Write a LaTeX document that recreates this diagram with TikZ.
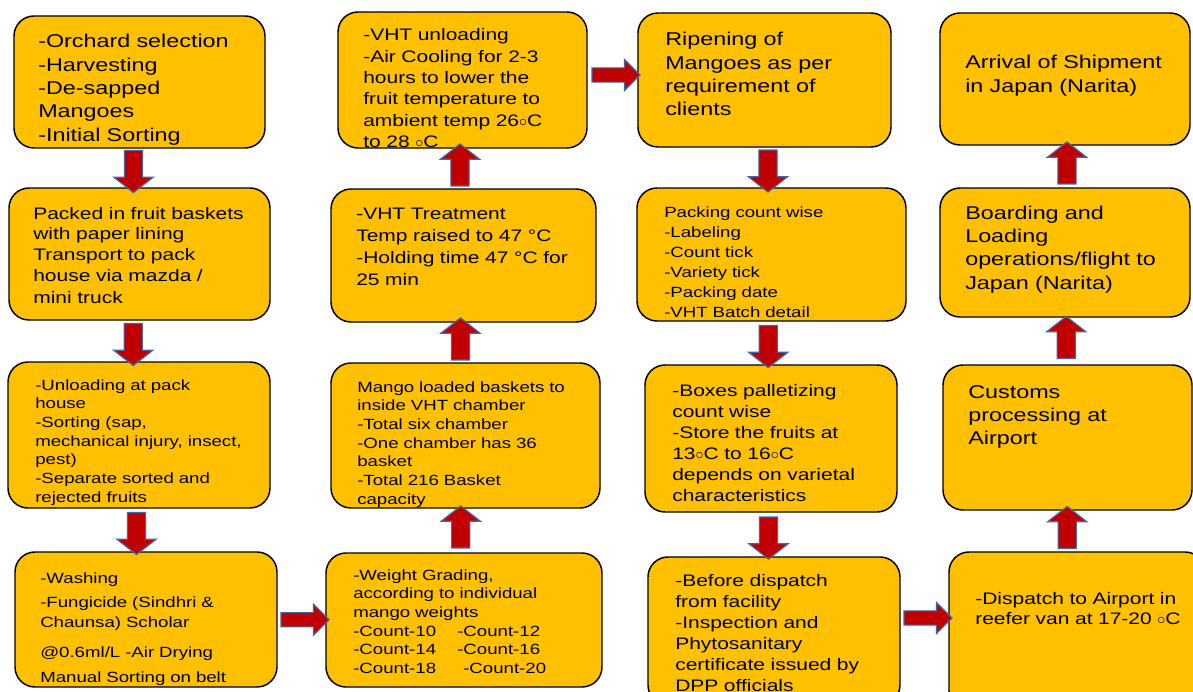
\documentclass[tikz,border=0pt]{standalone}
\usepackage{fontspec}
\usepackage{tikz}
\usetikzlibrary{fit,shapes.arrows}
\newfontfamily\boxfont{Liberation Sans}[FakeStretch=1.26]
\definecolor{mangofill}{HTML}{FFC000}
\definecolor{arrowred}{HTML}{C00000}
\definecolor{arrowblue}{HTML}{4169A8}
\newcommand{\dg}{\ensuremath{\circ}}

\begin{document}
\begin{tikzpicture}[x=0.75pt,y=-0.75pt,
  stage/.style={draw=black,line width=1.1pt,fill=mangofill,rounded corners=15pt,inner sep=0pt},
  big/.style={anchor=base west,inner sep=0pt,text width=200pt,align=left,font=\boxfont\fontsize{13.9}{17.5}\selectfont},
  mid/.style={big,font=\boxfont\fontsize{12.5}{16}\selectfont},
  small/.style={big,font=\boxfont\fontsize{11.1}{14}\selectfont},
  varrow/.style={single arrow,draw=arrowblue,fill=arrowred,line width=0.9pt,inner sep=6.4pt,
    minimum width=28.5pt,minimum height=31.5pt,single arrow head extend=7.9pt,single arrow tip angle=104},
  harrow/.style={varrow,inner sep=4.9pt,minimum width=22.5pt,minimum height=36pt,single arrow head extend=6.4pt,single arrow tip angle=90}]

\useasboundingbox (0,0) rectangle (1193,692);
\clip (0,0) rectangle (1193,692);

\node[stage,fit={(14,16) (265,148)}] (orchard) {};
\node[stage,fit={(9,188) (270,320)}] (packed) {};
\node[stage,fit={(8,362) (270,508)}] (unload) {};
\node[stage,fit={(15,552) (277,687)}] (wash) {};
\node[stage,fit={(326,553) (602,687)}] (grade) {};
\node[stage,fit={(331,363) (600,508)}] (load) {};
\node[stage,fit={(331,189) (596,322)}] (treat) {};
\node[stage,fit={(338,12) (587,148)}] (cool) {};
\node[stage,fit={(638,13) (891,147)}] (ripen) {};
\node[stage,fit={(637,188) (906,321)}] (pack) {};
\node[stage,fit={(645,365) (897,512)}] (store) {};
\node[stage,fit={(648,557) (900,705)}] (inspect) {};
\node[stage,fit={(949,552) (1205,710)}] (reefer) {};
\node[stage,fit={(943,365) (1192,510)}] (customs) {};
\node[stage,fit={(940,188) (1190,317)}] (board) {};
\node[stage,fit={(940,13) (1190,145)}] (arrive) {};

\node[big] (orchardtext) at (38,48) {-Orchard selection\\-Harvesting\\-De-sapped\\Mangoes\\-Initial Sorting};
\node[mid,font=\boxfont\fontsize{12.5}{15.75}\selectfont] (packedtext) at (33,219) {Packed in fruit baskets\\with paper lining\\Transport to pack\\house via mazda /\\mini truck};
\node[small] (unloadtext) at (35,390) {-Unloading at pack\\house\\-Sorting (sap,\\mechanical injury, insect,\\pest)\\-Separate sorted and\\rejected fruits};
\node[small,font=\boxfont\fontsize{11.1}{16.5}\selectfont] (washtext) at (40,583) {-Washing\\[1.5pt]-Fungicide (Sindhri \&\\[-1.5pt]Chaunsa) Scholar\\[6pt]@0.6ml/L -Air Drying\\[2.25pt]Manual Sorting on belt};
\node[small] (gradetext) at (353,580) {-Weight Grading,\\according to individual\\mango weights\\\makebox[78pt][l]{-Count-10}-Count-12\\\makebox[78pt][l]{-Count-14}-Count-16\\\makebox[82.5pt][l]{-Count-18}-Count-20};
\node[small] (loadtext) at (357,392) {Mango loaded baskets to\\inside VHT chamber\\-Total six chamber\\-One chamber has 36\\basket\\-Total 216 Basket\\capacity};
\node[mid,font=\boxfont\fontsize{12.5}{16.7}\selectfont] (treattext) at (356,219) {-VHT Treatment\\Temp raised to 47 °C\\-Holding time 47 °C for\\25 min};
\node[mid] (cooltext) at (363,41) {-VHT unloading\\-Air Cooling for 2-3\\hours to lower the\\fruit temperature to\\ambient temp 26\dg C\\to 28 \dg C};
\node[big] (ripentext) at (665,46) {Ripening of\\Mangoes as per\\requirement of\\clients};
\node[small,font=\boxfont\fontsize{11.1}{15}\selectfont] (packtext) at (664,217) {Packing count wise\\-Labeling\\-Count tick\\-Variety tick\\-Packing date\\-VHT Batch detail};
\node[mid,font=\boxfont\fontsize{12.5}{15.75}\selectfont] (storetext) at (672,396) {-Boxes palletizing\\count wise\\-Store the fruits at\\13\dg C to 16\dg C\\depends on varietal\\characteristics};
\node[mid,font=\boxfont\fontsize{12.5}{15.75}\selectfont] (inspecttext) at (675,586) {-Before dispatch\\from facility\\-Inspection and\\Phytosanitary\\certificate issued by\\DPP officials};
\node[mid,font=\boxfont\fontsize{12.5}{15}\selectfont] (reefertext) at (975,604) {-Dispatch to Airport in\\reefer van at 17-20 \dg C};
\node[big] (customstext) at (968,398) {Customs\\processing at\\Airport};
\node[big] (boardtext) at (965,219) {Boarding and\\Loading\\operations/flight to\\Japan (Narita)};
\node[big] (arrivetext) at (965,69) {Arrival of Shipment\\in Japan (Narita)};

\path (orchard.south) -- node[varrow,shape border rotate=270,xshift=-4.5pt] (down1) {} (packed.north);
\path (packed.south) -- node[varrow,shape border rotate=270,xshift=-4.5pt] (down2) {} (unload.north);
\path (unload.south) -- node[varrow,shape border rotate=270,xshift=-4.5pt] (down3) {} (wash.north);
\path (wash.east) -- node[harrow] (right1) {} (grade.west);
\path (grade.north) -- node[varrow,shape border rotate=90,xshift=-3pt] (up1) {} (load.south);
\path (load.north) -- node[varrow,shape border rotate=90,xshift=-3pt] (up2) {} (treat.south);
\path (treat.north) -- node[varrow,shape border rotate=90,xshift=-2.25pt] (up3) {} (cool.south);
\path (cool.east) -- node[harrow,yshift=3.75pt] (right2) {} (ripen.west);
\path (ripen.south) -- node[varrow,shape border rotate=270] (down4) {} (pack.north);
\path (pack.south) -- node[varrow,shape border rotate=270,xshift=-2.25pt] (down5) {} (store.north);
\path (store.south) -- node[varrow,shape border rotate=270,xshift=-3pt] (down6) {} (inspect.north);
\path (inspect.east) -- node[harrow,yshift=9.75pt] (right3) {} (reefer.west);
\path (reefer.north) -- node[varrow,shape border rotate=90,xshift=-3.75pt] (up4) {} (customs.south);
\path (customs.north) -- node[varrow,shape border rotate=90] (up5) {} (board.south);
\path (board.north) -- node[varrow,shape border rotate=90,xshift=1.5pt] (up6) {} (arrive.south);
\end{tikzpicture}
\end{document}
